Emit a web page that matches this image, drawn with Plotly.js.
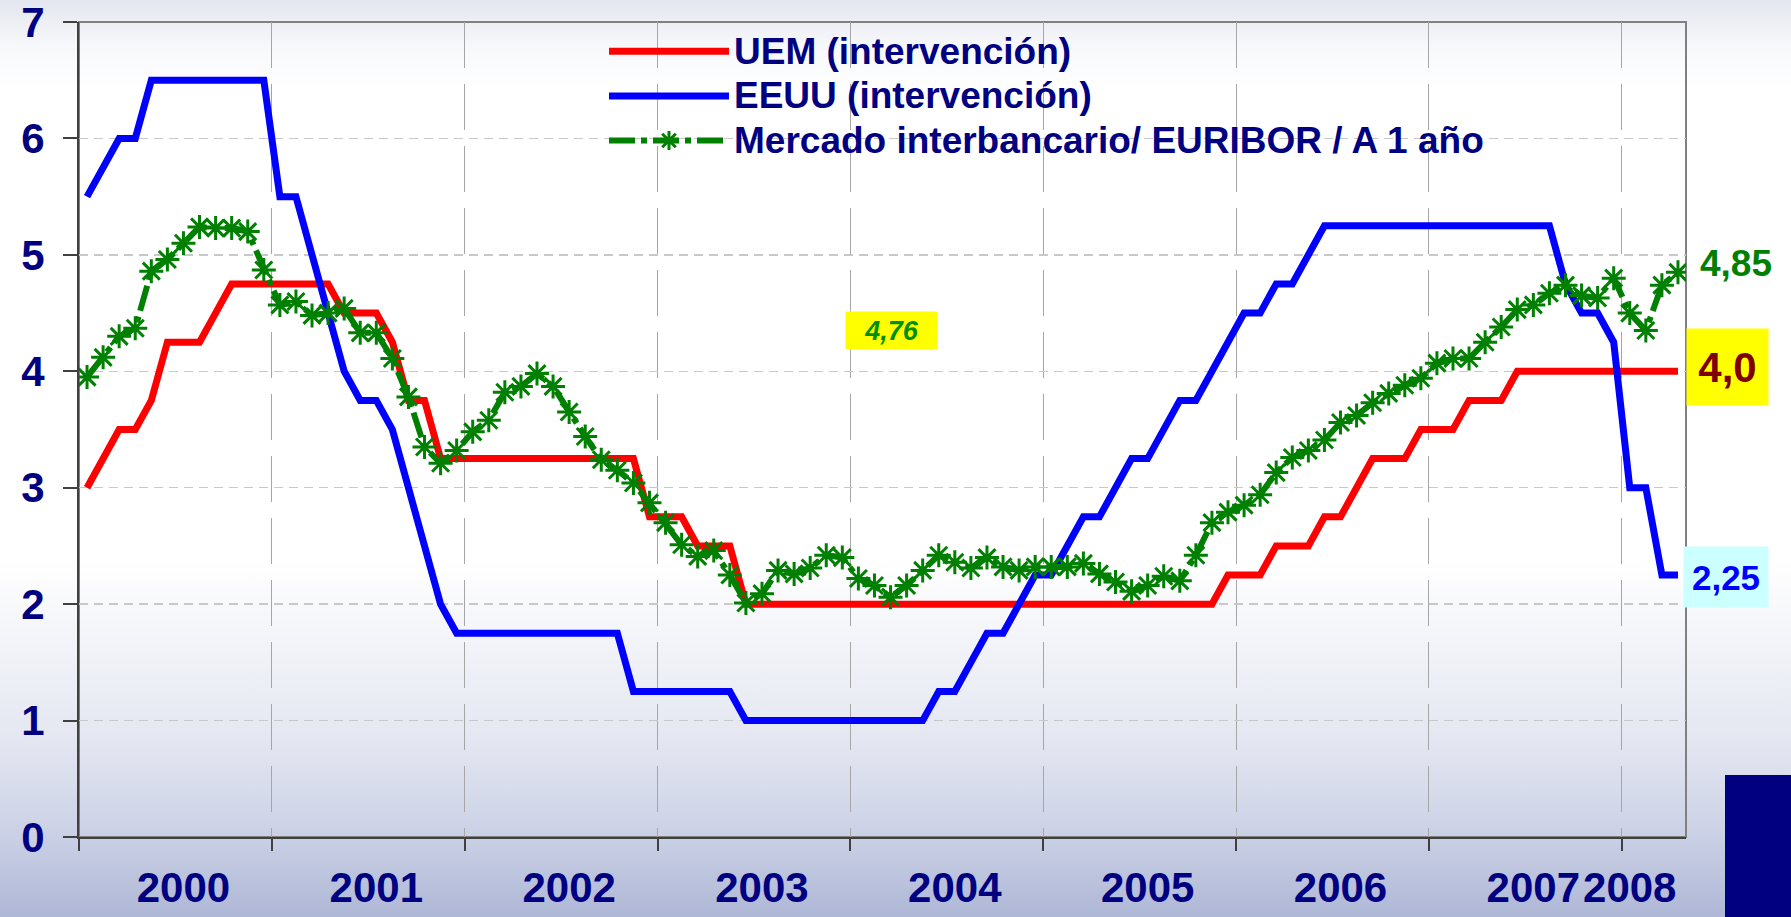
<!DOCTYPE html>
<html>
<head>
<meta charset="utf-8">
<script src="https://cdn.plot.ly/plotly-3.0.1.min.js"></script>
<style>
  html, body { margin: 0; padding: 0; width: 1791px; height: 917px; overflow: hidden; }
  body {
    background: linear-gradient(to bottom,
      #e3e6ef 0px, #f7f8fb 45px, #ffffff 90px, #ffffff 560px,
      #f3f4f9 640px, #e4e7f1 740px, #ccd2e6 830px, #aeb7d6 917px);
  }
  #chart { width: 1791px; height: 917px; }
</style>
</head>
<body>
<div id="chart"></div>
<script>
// ---- Data (monthly, Jan 2000 - Apr 2008) ----
const years = ['2000','2001','2002','2003','2004','2005','2006','2007','2008'];
const seriesNames = ['UEM (intervención)', 'EEUU (intervención)', 'Mercado interbancario/ EURIBOR / A 1 año'];

// UEM (intervención) - ECB rate
const uem = [
  3.00, 3.25, 3.50, 3.50, 3.75, 4.25, 4.25, 4.25, 4.50, 4.75, 4.75, 4.75,
  4.75, 4.75, 4.75, 4.75, 4.50, 4.50, 4.50, 4.25, 3.75, 3.75, 3.25, 3.25,
  3.25, 3.25, 3.25, 3.25, 3.25, 3.25, 3.25, 3.25, 3.25, 3.25, 3.25, 2.75,
  2.75, 2.75, 2.50, 2.50, 2.50, 2.00, 2.00, 2.00, 2.00, 2.00, 2.00, 2.00,
  2.00, 2.00, 2.00, 2.00, 2.00, 2.00, 2.00, 2.00, 2.00, 2.00, 2.00, 2.00,
  2.00, 2.00, 2.00, 2.00, 2.00, 2.00, 2.00, 2.00, 2.00, 2.00, 2.00, 2.25,
  2.25, 2.25, 2.50, 2.50, 2.50, 2.75, 2.75, 3.00, 3.25, 3.25, 3.25, 3.50,
  3.50, 3.50, 3.75, 3.75, 3.75, 4.00, 4.00, 4.00, 4.00, 4.00, 4.00, 4.00,
  4.00, 4.00, 4.00, 4.00
];

// EEUU (intervención) - Fed funds target
const eeuu = [
  5.50, 5.75, 6.00, 6.00, 6.50, 6.50, 6.50, 6.50, 6.50, 6.50, 6.50, 6.50,
  5.50, 5.50, 5.00, 4.50, 4.00, 3.75, 3.75, 3.50, 3.00, 2.50, 2.00, 1.75,
  1.75, 1.75, 1.75, 1.75, 1.75, 1.75, 1.75, 1.75, 1.75, 1.75, 1.25, 1.25,
  1.25, 1.25, 1.25, 1.25, 1.25, 1.00, 1.00, 1.00, 1.00, 1.00, 1.00, 1.00,
  1.00, 1.00, 1.00, 1.00, 1.00, 1.25, 1.25, 1.50, 1.75, 1.75, 2.00, 2.25,
  2.25, 2.50, 2.75, 2.75, 3.00, 3.25, 3.25, 3.50, 3.75, 3.75, 4.00, 4.25,
  4.50, 4.50, 4.75, 4.75, 5.00, 5.25, 5.25, 5.25, 5.25, 5.25, 5.25, 5.25,
  5.25, 5.25, 5.25, 5.25, 5.25, 5.25, 5.25, 5.25, 4.75, 4.50, 4.50, 4.25,
  3.00, 3.00, 2.25, 2.25
];

// Mercado interbancario / EURIBOR a 1 año
const euribor = [
  3.95, 4.12, 4.30, 4.37, 4.86, 4.96, 5.10, 5.24, 5.23, 5.23, 5.20, 4.87,
  4.57, 4.60, 4.48, 4.50, 4.54, 4.33, 4.33, 4.11, 3.78, 3.35, 3.21, 3.32,
  3.48, 3.58, 3.82, 3.87, 3.98, 3.87, 3.65, 3.44, 3.24, 3.15, 3.04, 2.87,
  2.70, 2.51, 2.41, 2.46, 2.25, 2.01, 2.09, 2.29, 2.26, 2.31, 2.42, 2.40,
  2.22, 2.16, 2.06, 2.16, 2.29, 2.42, 2.36, 2.31, 2.40, 2.32, 2.29, 2.32,
  2.32, 2.32, 2.35, 2.26, 2.19, 2.11, 2.16, 2.24, 2.20, 2.42, 2.70, 2.79,
  2.85, 2.94, 3.13, 3.26, 3.32, 3.41, 3.56, 3.62, 3.73, 3.81, 3.88, 3.94,
  4.07, 4.11, 4.11, 4.25, 4.38, 4.53, 4.57, 4.67, 4.74, 4.65, 4.63, 4.80,
  4.50, 4.35, 4.74, 4.85
];

// category positions (one per month)
const monthPos = uem.map((_, i) => i);
const yearLabelPos = [6, 18, 30, 42, 54, 66, 78, 90, 96];
const yearBoundaries = [-0.5, 11.5, 23.5, 35.5, 47.5, 59.5, 71.5, 83.5, 95.5];

const navy = '#000080';
const FONT = 'Liberation Sans, Arial, sans-serif';
const legendName = s => '<span style="font-size:37px">' + s + '</span>';

const traces = [
  {
    x: monthPos, y: uem, name: legendName(seriesNames[0]), type: 'scatter', mode: 'lines',
    line: { color: '#ff0000', width: 7 }
  },
  {
    x: monthPos, y: eeuu, name: legendName(seriesNames[1]), type: 'scatter', mode: 'lines',
    line: { color: '#0000ff', width: 7 }
  },
  {
    x: monthPos, y: euribor, name: legendName(seriesNames[2]), type: 'scatter',
    mode: 'lines+markers',
    line: { color: '#008000', width: 6, dash: '26px,6px,6px,6px' },
    marker: { symbol: 'asterisk-open', size: 20, color: '#008000', line: { color: '#008000', width: 3 } }
  }
];

// plot area in pixels: left 79, right 1686, top 22, bottom 837
const PL = 79, PR = 1686, PT = 22, PB = 837;
const px = v => (v - PL) / (PR - PL);
const py = v => (PB - v) / (PB - PT);

function box(xc, yc, text, opts) {
  return Object.assign({
    xref: 'paper', yref: 'paper', x: px(xc), y: py(yc), xanchor: 'center', yanchor: 'middle',
    text: text, showarrow: false, borderpad: 0
  }, opts);
}

const layout = {
  width: 1791, height: 917,
  margin: { l: PL, r: 1791 - PR, t: PT, b: 917 - PB, pad: 0 },
  paper_bgcolor: 'rgba(0,0,0,0)',
  plot_bgcolor: 'rgba(0,0,0,0)',
  showlegend: true,
  legend: {
    x: px(604), y: py(24), xanchor: 'left', yanchor: 'top',
    bgcolor: 'rgba(0,0,0,0)',
    font: { family: FONT, size: 32, color: navy, weight: 'bold' },
    itemwidth: 120,
    tracegroupgap: 0
  },
  xaxis: {
    range: [-0.5, 99.5],
    tickmode: 'array', tickvals: yearLabelPos, ticktext: years,
    tickangle: 0,
    ticks: '', showgrid: false, zeroline: false,
    ticklabelstandoff: 13,
    tickfont: { family: FONT, size: 42, color: navy, weight: 'bold' },
    showline: true, linecolor: '#404040', linewidth: 2,
    minor: {
      tickmode: 'array', tickvals: yearBoundaries,
      ticks: 'outside', ticklen: 12, tickcolor: '#404040', tickwidth: 2,
      showgrid: true, gridcolor: '#a6a6a6', gridwidth: 1, griddash: '46px,16px'
    }
  },
  yaxis: {
    range: [0, 7.0001], tickmode: 'array', tickvals: [0,1,2,3,4,5,6,7],
    ticks: 'outside', ticklen: 14, tickcolor: '#404040', tickwidth: 2,
    ticklabelstandoff: 10, ticklabeloverflow: 'allow',
    tickfont: { family: FONT, size: 42, color: navy, weight: 'bold' },
    showgrid: true, gridcolor: '#c8c8c8', gridwidth: 1.5, griddash: '9px,6px',
    zeroline: false, showline: true, linecolor: '#404040', linewidth: 2
  },
  shapes: [
    { type: 'rect', xref: 'paper', yref: 'paper', x0: 0, x1: 1, y0: 0, y1: 1,
      line: { color: '#808080', width: 2 }, layer: 'below' },
    { type: 'rect', xref: 'paper', yref: 'paper', x0: px(1725), x1: px(1800), y0: py(925), y1: py(775),
      fillcolor: '#000080', line: { width: 0 } }
  ],
  annotations: [
    box(1736, 263, '4,85', { font: { family: FONT, size: 37, color: '#008000', weight: 'bold' } }),
    box(1727.5, 367, '4,0', { width: 81, height: 76, bgcolor: '#ffff00',
      font: { family: FONT, size: 42, color: '#800000', weight: 'bold' } }),
    box(1726, 577, '2,25', { width: 84, height: 60, bgcolor: '#ccffff',
      font: { family: FONT, size: 35, color: '#0000ff', weight: 'bold' } }),
    box(891.5, 330.5, '4,76', { width: 91, height: 37, bgcolor: '#ffff00',
      font: { family: FONT, size: 27, color: '#009000', weight: 'bold', style: 'italic' } })
  ]
};

Plotly.newPlot('chart', traces, layout, { staticPlot: true, displayModeBar: false });
</script>
</body>
</html>
